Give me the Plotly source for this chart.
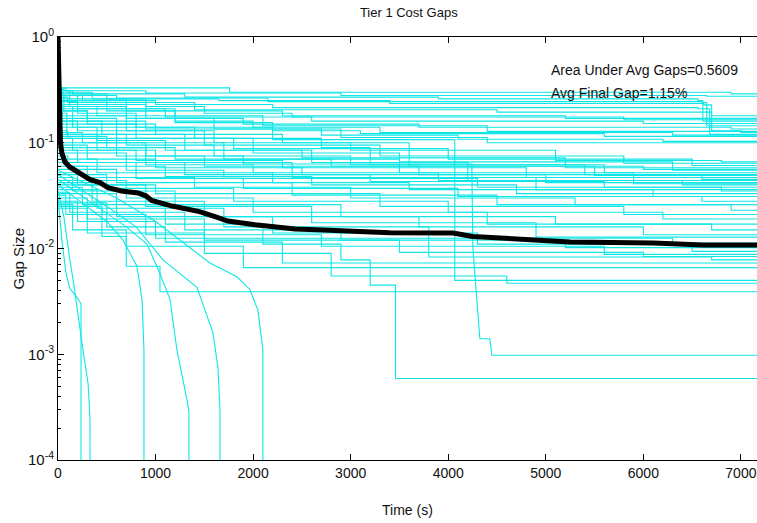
import plotly.graph_objects as go

# ---- labels and ticks -------------------------------------------------------
title_text = "Tier 1 Cost Gaps"
x_label = "Time (s)"
y_label = "Gap Size"
x_tick_vals = [0, 1000, 2000, 3000, 4000, 5000, 6000, 7000]
x_tick_text = ["0", "1000", "2000", "3000", "4000", "5000", "6000", "7000"]
y_tick_vals = [1e-4, 1e-3, 1e-2, 1e-1, 1e0]
y_tick_text = ["10<sup>-4</sup>", "10<sup>-3</sup>", "10<sup>-2</sup>",
               "10<sup>-1</sup>", "10<sup>0</sup>"]

area_under_avg = 0.5609
avg_final_gap_pct = 1.15
time_end = 7200

# ---- average gap over all runs ------------------------------------------------
avg_times = [0, 5, 10, 15, 25, 40, 70, 120, 225, 330, 430, 512, 650, 820, 900,
             960, 1170, 1450, 1610, 1740, 2020, 2300, 2430, 2720, 3400, 4050,
             4250, 4840, 5250, 6100, 6610, 7200]
avg_gaps = [1.0, 0.5, 0.25, 0.14, 0.1, 0.08, 0.066, 0.059, 0.052, 0.0448,
            0.042, 0.0376, 0.035, 0.0335, 0.0315, 0.0285, 0.0252, 0.0223, 0.0200,
            0.0182, 0.0168, 0.0157, 0.0153, 0.0150, 0.0141, 0.0140, 0.0130,
            0.0121, 0.0115, 0.0113, 0.0108, 0.0108]

# ---- individual runs: (time, gap) breakpoints, held until the next one -------
upper_runs = [
    [(0, 0.33), (1760, 0.30), (6900, 0.29)],
    [(0, 0.32), (60, 0.31), (900, 0.295), (2900, 0.28), (6650, 0.275)],
    [(0, 0.31), (150, 0.29), (1300, 0.27), (3900, 0.26), (6560, 0.25), (6610, 0.16)],
    [(0, 0.30), (40, 0.28), (600, 0.265), (2150, 0.245), (6600, 0.24), (6650, 0.145)],
    [(0, 0.29), (500, 0.26), (1650, 0.25), (3400, 0.235), (6620, 0.228), (6700, 0.13), (7000, 0.125)],
    [(0, 0.28), (250, 0.25), (1000, 0.23), (2200, 0.215), (6560, 0.21), (6680, 0.12)],
    [(0, 0.27), (100, 0.24), (1400, 0.205), (4500, 0.195), (6700, 0.18)],
    [(0, 0.26), (700, 0.20), (2300, 0.18), (5200, 0.17)],
    [(0, 0.245), (200, 0.21), (1100, 0.175), (2600, 0.16), (6000, 0.152)],
    [(0, 0.23), (900, 0.17), (1900, 0.15), (3700, 0.14), (6900, 0.135)],
    [(0, 0.22), (400, 0.18), (2100, 0.145), (4400, 0.128)],
    [(0, 0.21), (1200, 0.155), (2200, 0.13), (3100, 0.122), (5600, 0.115)],
    [(0, 0.20), (300, 0.16), (900, 0.135), (2700, 0.118), (4100, 0.108), (6200, 0.103)],
    [(0, 0.17), (600, 0.14), (2200, 0.107), (4067, 0.005)],
    [(0, 0.33), (80, 0.30), (350, 0.26), (900, 0.22), (1500, 0.19), (2400, 0.175), (5800, 0.165)],
    [(0, 0.32), (30, 0.25), (500, 0.20), (1200, 0.16), (2000, 0.14), (3300, 0.125), (6300, 0.118)],
    [(0, 0.31), (120, 0.22), (700, 0.17), (1600, 0.135), (2900, 0.112), (4400, 0.10)],
]

middle_runs = [
    [(0, 0.18), (700, 0.13), (1600, 0.10), (3000, 0.085), (5100, 0.068), (6800, 0.066)],
    [(0, 0.16), (200, 0.13), (1500, 0.095), (3300, 0.075), (5800, 0.064)],
    [(0, 0.15), (800, 0.11), (1800, 0.088), (4000, 0.07), (6500, 0.061)],
    [(0, 0.14), (400, 0.105), (1100, 0.085), (2500, 0.072), (5200, 0.058)],
    [(0, 0.13), (100, 0.11), (2000, 0.08), (3500, 0.066), (6300, 0.055)],
    [(0, 0.12), (700, 0.095), (1600, 0.075), (3000, 0.062), (5600, 0.052)],
    [(0, 0.115), (500, 0.09), (1200, 0.07), (2800, 0.06), (5500, 0.049)],
    [(0, 0.11), (150, 0.085), (800, 0.068), (2300, 0.058), (4800, 0.047)],
    [(0, 0.10), (600, 0.075), (1500, 0.06), (3700, 0.05), (6600, 0.045)],
    [(0, 0.095), (300, 0.07), (1000, 0.058), (2500, 0.05), (5000, 0.042)],
    [(0, 0.09), (900, 0.062), (2000, 0.052), (3900, 0.044), (6400, 0.04)],
    [(0, 0.085), (200, 0.065), (1300, 0.05), (3200, 0.043), (5600, 0.038)],
    [(0, 0.08), (700, 0.055), (1700, 0.046), (4300, 0.038), (6800, 0.035)],
    [(0, 0.075), (100, 0.06), (1100, 0.048), (2600, 0.04), (4700, 0.033)],
    [(0, 0.07), (400, 0.052), (2200, 0.042), (3600, 0.036), (6100, 0.031)],
    [(0, 0.30), (60, 0.20), (300, 0.15), (1000, 0.12), (2300, 0.10), (3600, 0.06), (6000, 0.056)],
    [(0, 0.28), (200, 0.19), (800, 0.14), (1400, 0.11), (2700, 0.09), (3200, 0.062), (5400, 0.05)],
    [(0, 0.25), (40, 0.16), (450, 0.12), (1300, 0.085), (2600, 0.065), (4200, 0.044)],
    [(0, 0.22), (150, 0.14), (600, 0.10), (1700, 0.07), (3500, 0.052), (5900, 0.041)],
    [(0, 0.19), (90, 0.12), (400, 0.085), (1000, 0.065), (2400, 0.047), (4900, 0.036)],
]

lower_runs = [
    [(0, 0.065), (800, 0.046), (1900, 0.037), (4100, 0.031), (6600, 0.028)],
    [(0, 0.06), (300, 0.047), (1400, 0.038), (3000, 0.03), (5300, 0.026)],
    [(0, 0.056), (600, 0.042), (2400, 0.032), (4500, 0.026), (6900, 0.023)],
    [(0, 0.052), (200, 0.04), (1000, 0.033), (3300, 0.025), (5800, 0.021)],
    [(0, 0.05), (500, 0.037), (1800, 0.028), (4000, 0.022), (6200, 0.019)],
    [(0, 0.047), (150, 0.035), (1200, 0.026), (2900, 0.02), (5100, 0.017)],
    [(0, 0.044), (700, 0.03), (2000, 0.022), (4400, 0.017), (6700, 0.015)],
    [(0, 0.042), (350, 0.028), (1500, 0.02), (3700, 0.016), (6000, 0.0135)],
    [(0, 0.04), (900, 0.025), (2600, 0.0175), (4900, 0.0128)],
    [(0, 0.036), (400, 0.024), (1700, 0.016), (3800, 0.0125), (6300, 0.0112)],
    [(0, 0.034), (120, 0.022), (1300, 0.015), (2900, 0.012), (5200, 0.0102)],
    [(0, 0.033), (600, 0.02), (2200, 0.014), (4300, 0.011), (6500, 0.0094)],
    [(0, 0.032), (80, 0.021), (900, 0.0135), (2700, 0.0105), (5600, 0.0088)],
    [(0, 0.03), (300, 0.019), (1500, 0.012), (3500, 0.0092), (6000, 0.0084)],
    [(0, 0.028), (200, 0.018), (1000, 0.0125), (3800, 0.0083), (6700, 0.0078)],
    [(0, 0.027), (500, 0.016), (1100, 0.0115), (2300, 0.0073)],
    [(0, 0.026), (150, 0.015), (700, 0.0105), (1900, 0.0066)],
    [(0, 0.025), (450, 0.013), (700, 0.0068), (1045, 0.0039)],
    [(0, 0.024), (300, 0.014), (1500, 0.009), (2800, 0.0055), (4600, 0.0047)],
    [(0, 0.038), (250, 0.026), (1100, 0.017), (2100, 0.011), (2900, 0.0078),
     (3200, 0.0045), (3460, 0.00059)],
]

# runs that close their gap, traced point to point (1e-6 = solved, below axis)
closing_runs = [
    [(0, 0.03), (40, 0.012), (80, 0.006), (120, 0.0042), (200, 0.0034),
     (236, 0.003), (236, 1e-6)],
    [(0, 0.035), (60, 0.02), (120, 0.008), (160, 0.0047), (256, 0.0011),
     (308, 0.00053), (328, 0.00025), (330, 1e-6)],
    [(0, 0.04), (300, 0.025), (500, 0.018), (666, 0.012), (809, 0.0068),
     (861, 0.0033), (881, 0.0011), (881, 1e-6)],
    [(0, 0.045), (400, 0.025), (700, 0.016), (912, 0.011), (1045, 0.0058),
     (1148, 0.0033), (1219, 0.0011), (1322, 0.00037), (1342, 0.00029), (1342, 1e-6)],
    [(0, 0.05), (500, 0.025), (800, 0.016), (1076, 0.0078), (1424, 0.0043),
     (1588, 0.0016), (1639, 0.00075), (1660, 0.0003), (1660, 1e-6)],
    [(0, 0.055), (600, 0.03), (1000, 0.018), (1300, 0.011), (1557, 0.0073),
     (1834, 0.0054), (1967, 0.0041), (2049, 0.0026), (2100, 0.0011), (2100, 1e-6)],
    [(0, 0.125), (250, 0.125), (250, 0.10), (900, 0.10), (900, 0.075),
     (1900, 0.075), (1900, 0.063), (4242, 0.063), (4252, 0.0104), (4324, 0.0014),
     (4426, 0.0014), (4447, 0.00098), (7200, 0.00098)],
]

run_color = "#10e6e6"
label_font = "Liberation Sans Narrow, Liberation Sans, Arial, sans-serif"

fig = go.Figure()

for run in upper_runs + middle_runs + lower_runs:
    ts = [p[0] for p in run] + [time_end]
    gs = [p[1] for p in run] + [run[-1][1]]
    fig.add_trace(go.Scatter(x=ts, y=gs, mode="lines", line_shape="hv",
                             line=dict(color=run_color, width=1.1),
                             showlegend=False, hoverinfo="skip"))

for run in closing_runs:
    fig.add_trace(go.Scatter(x=[p[0] for p in run], y=[p[1] for p in run],
                             mode="lines", line=dict(color=run_color, width=1.1),
                             showlegend=False, hoverinfo="skip"))

fig.add_trace(go.Scatter(x=avg_times, y=avg_gaps, mode="lines",
                         line=dict(color="black", width=5),
                         showlegend=False, hoverinfo="skip"))

minor_vals = [m * 10.0 ** e for e in range(-4, 0) for m in range(2, 10)]

fig.update_layout(
    width=757, height=523,
    margin=dict(l=58, r=0, t=37, b=63),
    paper_bgcolor="white", plot_bgcolor="white",
    title=dict(text=title_text, x=0.54, xref="container", xanchor="center",
               y=1 - 12 / 523, yref="container", yanchor="middle",
               font=dict(family=label_font, size=13, color="#111")),
    xaxis=dict(range=[0, 7165], tickmode="array", tickvals=x_tick_vals,
               ticktext=x_tick_text, ticks="inside", ticklen=6,
               tickcolor="black", showline=True, linecolor="black",
               linewidth=1, mirror="ticks", showgrid=False, zeroline=False,
               tickfont=dict(family=label_font, size=14, color="#111")),
    yaxis=dict(type="log", range=[-4, 0], tickmode="array",
               tickvals=y_tick_vals, ticktext=y_tick_text, ticks="inside",
               ticklen=6, tickcolor="black", showline=True,
               linecolor="black", linewidth=1, mirror=False,
               showgrid=False, zeroline=False,
               minor=dict(tickmode="array", tickvals=minor_vals,
                          ticks="inside", ticklen=3, tickcolor="black",
                          showgrid=False),
               tickfont=dict(family=label_font, size=15, color="#111")),
)

fig.add_annotation(text=x_label, xref="paper", yref="paper", x=0.5, y=0,
                   yanchor="middle", yshift=-50, showarrow=False,
                   font=dict(family=label_font, size=14, color="#111"))
fig.add_annotation(text=y_label, xref="paper", yref="paper", x=0, y=0.5,
                   xanchor="center", xshift=-40, yshift=-10, textangle=-90,
                   showarrow=False,
                   font=dict(family="Liberation Sans, Arial, sans-serif",
                             size=15, color="#111"))
fig.add_annotation(text=f"Area Under Avg Gaps={area_under_avg}",
                   xref="paper", yref="paper", x=(549 - 58) / 699,
                   y=(460 - 70) / 423, xanchor="left", yanchor="middle",
                   showarrow=False,
                   font=dict(family=label_font, size=14, color="#111"))
fig.add_annotation(text=f"Avg Final Gap={avg_final_gap_pct}%",
                   xref="paper", yref="paper", x=(549 - 58) / 699,
                   y=(460 - 93) / 423, xanchor="left", yanchor="middle",
                   showarrow=False,
                   font=dict(family=label_font, size=14, color="#111"))

fig.write_html("out.html")
